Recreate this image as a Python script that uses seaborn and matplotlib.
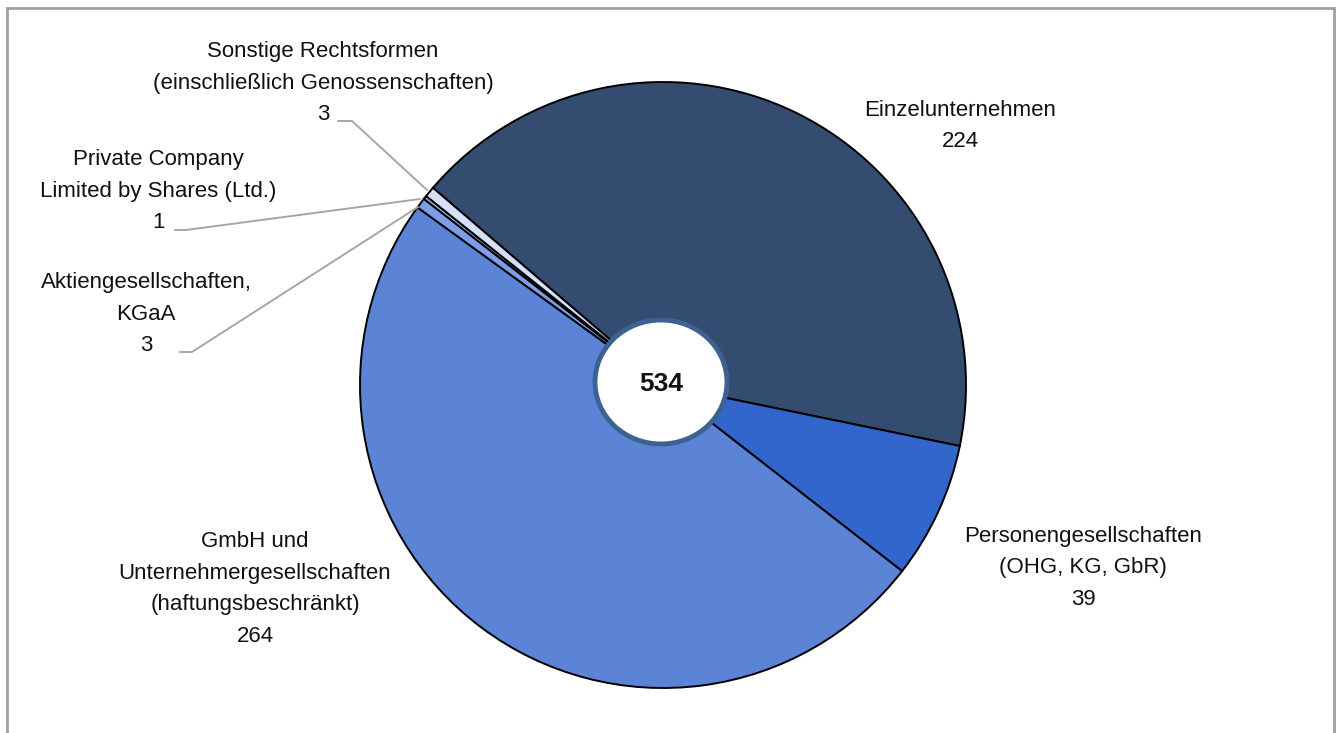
import matplotlib
matplotlib.use("Agg")
import matplotlib.pyplot as plt
from matplotlib.patches import Ellipse, Rectangle
import seaborn as sns

# ---- data ----
categories = [
    "Einzelunternehmen",
    "Personengesellschaften\n(OHG, KG, GbR)",
    "GmbH und\nUnternehmergesellschaften\n(haftungsbeschränkt)",
    "Aktiengesellschaften,\nKGaA",
    "Private Company\nLimited by Shares (Ltd.)",
    "Sonstige Rechtsformen\n(einschließlich Genossenschaften)",
]
values = [224, 39, 264, 3, 1, 3]
total_label = "534"
colors = ["#344C70", "#3366CC", "#5B84D6", "#7D9DE6", "#A9BEEB", "#D5DFF5"]

sns.set_theme(style="white")
plt.rcParams["font.family"] = ["Liberation Sans", "DejaVu Sans"]

W, H = 1337, 733
fig = plt.figure(figsize=(W / 100, H / 100), dpi=100)
ax = fig.add_axes([0, 0, 1, 1])

cx, cy, r = 663, H - 385, 303
wedges, _ = ax.pie(values, colors=colors, startangle=139.4, counterclock=False,
                   center=(cx, cy), radius=r, frame=True,
                   wedgeprops=dict(edgecolor="black", linewidth=1.4))
ax.set_xlim(0, W)
ax.set_ylim(0, H)
ax.set_aspect("auto")
ax.axis("off")

# centre circle
ax.add_patch(Ellipse((cx - 2, H - 382), 132, 124, facecolor="white",
                     edgecolor="#3D6190", linewidth=3.5, zorder=5))
ax.text(cx - 2, H - 384, total_label, ha="center", va="center", fontsize=19,
        fontweight="bold", zorder=6, color="#111111")

# labels: (x, y_pixel_center)
label_pos = [(960, 126), (1083, 568), (255, 589), (146, 314), (158, 191), (323, 83)]
fs = 16
for cat, v, (x, yp) in zip(categories, values, label_pos):
    ax.text(x, H - yp, f"{cat}\n{v}", ha="center", va="center", fontsize=fs,
            linespacing=1.68, color="#111111")

# leader lines
leaders = [
    [(338, 121), (352, 121), (427, 190)],
    [(175, 230), (186, 230), (420, 199)],
    [(180, 352), (192, 352), (418, 207)],
]
for pts in leaders:
    xs = [p[0] for p in pts]
    ys = [H - p[1] for p in pts]
    ax.plot(xs, ys, color="#A6A6A6", linewidth=1.4, zorder=1)

# outer frame
ax.add_patch(Rectangle((7, -20), 1327, H - 8 + 20, fill=False,
                       edgecolor="#A0A0A0", linewidth=2, zorder=0))

fig.savefig("out.png", dpi=100)
